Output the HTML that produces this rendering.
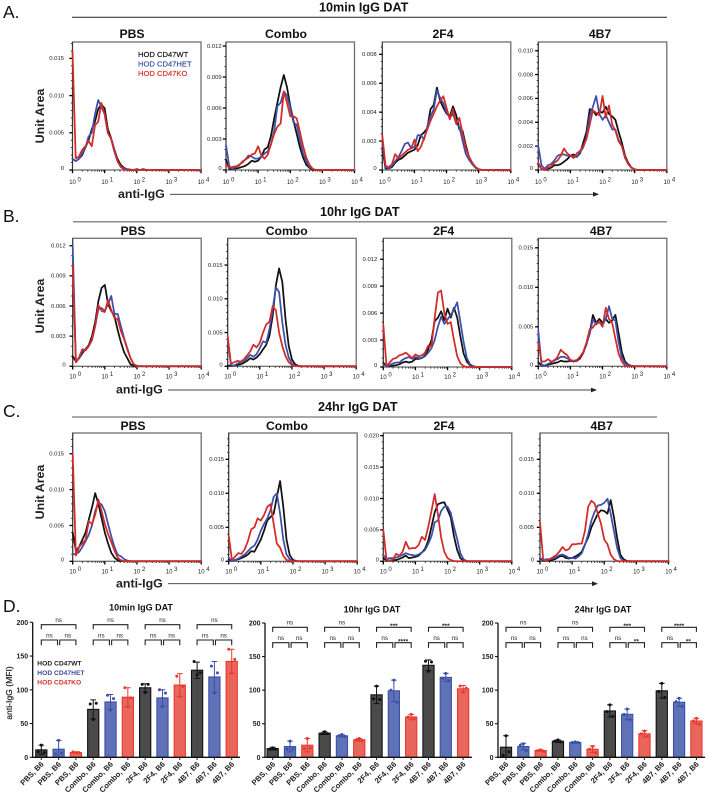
<!DOCTYPE html>
<html lang="en">
<head>
<meta charset="utf-8">
<title>IgG DAT flow cytometry histograms and MFI bar charts</title>
<style>
html,body{margin:0;padding:0;background:#fff;width:708px;height:794px;overflow:hidden}
svg{display:block;font-family:"Liberation Sans",sans-serif;filter:blur(0.35px)}
.letter{font-size:17.5px;fill:#111}
.section{font-size:12.6px;font-weight:bold;fill:#111}
.ptitle{font-size:12.2px;font-weight:bold;fill:#111;text-anchor:middle}
.axt{font-size:12.4px;font-weight:bold;fill:#222}
.leg{font-size:7.6px;stroke-width:.18}
.dleg{font-size:6.7px;font-weight:bold}
.dtitle{font-size:9px;font-weight:bold;fill:#111;text-anchor:middle}
</style>
</head>
<body>
<svg id="figure" xmlns="http://www.w3.org/2000/svg" width="708" height="794" viewBox="0 0 708 794">
<rect width="708" height="794" fill="#fff"/>

<text class="letter" x="3" y="18">A.</text>
<text class="section" x="319" y="11.5">10min IgG DAT</text>
<line x1="72" y1="17.3" x2="667" y2="17.3" stroke="#222" stroke-width="1"/>
<text class="ptitle" x="132" y="38">PBS</text>
<text class="ptitle" x="286" y="38">Combo</text>
<text class="ptitle" x="443" y="38">2F4</text>
<text class="ptitle" x="600" y="38">4B7</text>
<text class="axt" transform="translate(44,116) rotate(-90)" text-anchor="middle">Unit Area</text>
<text class="axt" x="118" y="198">anti-IgG</text>
<line x1="170" y1="194.3" x2="595" y2="194.3" stroke="#333" stroke-width=".9"/>
<polygon points="599,194.3 593,191.9 593,196.7" fill="#222"/>
<g>
<text class="leg" x="138" y="57" fill="#111" stroke="#111">HOD CD47WT</text>
<text class="leg" x="138" y="66.4" fill="#3a4fa3" stroke="#3a4fa3">HOD CD47HET</text>
<text class="leg" x="138" y="75.8" fill="#d5322b" stroke="#d5322b">HOD CD47KO</text>
</g>

<text class="letter" x="3" y="222">B.</text>
<text class="section" x="320" y="216">10hr IgG DAT</text>
<line x1="73" y1="221.8" x2="667" y2="221.8" stroke="#666" stroke-width="1.2"/>
<text class="ptitle" x="133" y="235">PBS</text>
<text class="ptitle" x="286.7" y="235">Combo</text>
<text class="ptitle" x="443.7" y="235">2F4</text>
<text class="ptitle" x="601" y="235">4B7</text>
<text class="axt" transform="translate(44,306) rotate(-90)" text-anchor="middle">Unit Area</text>
<text class="axt" x="116" y="393.5">anti-IgG</text>
<line x1="168" y1="390" x2="593" y2="390" stroke="#444" stroke-width="1"/>
<polygon points="597,390 591,387.6 591,392.4" fill="#222"/>

<text class="letter" x="3" y="417">C.</text>
<text class="section" x="318" y="411">24hr IgG DAT</text>
<line x1="72" y1="417" x2="657" y2="417" stroke="#555" stroke-width="1"/>
<text class="ptitle" x="133" y="430">PBS</text>
<text class="ptitle" x="287" y="430">Combo</text>
<text class="ptitle" x="444" y="430">2F4</text>
<text class="ptitle" x="601.7" y="430">4B7</text>
<text class="axt" transform="translate(44,492) rotate(-90)" text-anchor="middle">Unit Area</text>
<text class="axt" x="116" y="587.5">anti-IgG</text>
<line x1="168" y1="583.7" x2="594" y2="583.7" stroke="#333" stroke-width=".9"/>
<polygon points="598,583.7 592,581.3 592,586.1" fill="#222"/>

<text class="letter" x="3" y="612">D.</text>
<text class="dtitle" x="141" y="610.7">10min IgG DAT</text>
<text class="dtitle" x="372" y="612.7">10hr IgG DAT</text>
<text class="dtitle" x="603" y="612.7">24hr IgG DAT</text>
<text transform="translate(12,693) rotate(-90)" text-anchor="middle" font-size="8.6" fill="#111" stroke="#111" stroke-width=".15">anti-IgG (MFI)</text>
<g>
<text class="dleg" x="37.3" y="665.6" fill="#222">HOD CD47WT</text>
<text class="dleg" x="37.3" y="675" fill="#3a4fa3">HOD CD47HET</text>
<text class="dleg" x="37.3" y="684.3" fill="#d5322b">HOD CD47KO</text>
</g>
<g id="plots"></g>
</svg>

<script>
// ---------- Histogram data (Unit Area x 10^-3, sampled every 0.1 log10 decade from 10^0; tail is 0) ----------
const aPbsWt=[1.5,1.2,1.5,2,3,4,5.5,6.5,8.2,8.8,8.3,5.5,4.3,2.8,1.5,.7,.3,.1,.05,0,.1,0,.1];
const aPbsHet=[1.5,1.2,1.5,2.2,3,4.5,5,7.5,9.4,8.5,7.5,5,4.2,2.5,1.2,.5,.2,.05];
const aPbsKo=[16,1.6,1.8,2.7,3.2,3.9,3.2,6,6.5,9,7.5,5,4.2,2.8,1.2,.4,.1];
const aComboWt=[1,.1,.1,.15,.2,.3,.4,.6,.9,.8,.9,1.3,2,2.2,3.3,5,6.5,8,9.2,8,6.2,4.8,3.5,2.2,1.2,.5,.2];
const aComboHet=[2.4,.4,.1,.3,.5,.7,1,1.4,1.3,1.1,1.1,1.3,1.6,1.8,2.5,3.8,6.2,6.5,7.6,7.2,6,4.6,4.4,2.9,1.6,.8,.3,.1];
const aComboKo=[.6,.2,.3,.35,.4,.8,1,1.2,1.5,1.6,2.3,1.4,1.1,1.5,2.5,3.5,4.2,4.5,7.6,6.5,5.2,5.2,5,3.7,2.3,1.2,.5,.1];
const a2f4Wt=[1.5,.1,.1,.2,.5,.7,.8,1,1.2,1.3,1.4,1.7,2.4,2.6,2.9,4.2,4.5,5.7,4.8,4.3,3.9,3.7,4.4,3.8,2.8,2.7,1.7,.9,.5,.2,.05];
const a2f4Het=[2,.2,.1,.3,.6,.9,1.3,1.8,1.9,1.5,1.6,2.4,2.4,2.1,3,3.7,4.2,5.5,5,4.6,4,3.6,3.9,3.2,3,2,1.1,.7,.4,.15,.05];
const a2f4Ko=[2.4,.3,.2,.4,1.1,.8,1,1.2,1.4,1.5,2.1,1.3,1.6,2.2,2.8,3.4,3.9,4.4,4.8,5.1,4.3,3.5,4.2,3.2,3.6,2.5,1.5,.9,.5,.2,.05];
const a4b7Wt=[.5,.1,0,.1,.2,.4,.4,.5,.7,.9,1.2,1.3,1.1,1.4,2.3,3.2,5.1,5,4.6,4.9,4.8,5.3,4.7,4.5,4.2,3.2,2.3,1.2,.6,.2,.05];
const a4b7Het=[2,.4,.1,.4,.5,.8,1.2,1.3,1.3,1.2,1.2,1.1,1.1,1.5,1.9,2.8,4.5,5.3,6.2,4.7,4.2,4.6,4,3.4,3.4,2.5,2,1,.5,.2,.05];
const a4b7Ko=[.6,.1,0,.2,.3,.6,.8,1.2,1.8,1.4,1.2,1,1.4,1.6,2,2.6,3.8,5,4.8,4.6,6.2,4.4,5.4,3.8,3.3,2.4,2,1.1,.5,.2,.05];

const bPbsWt=[1,.5,.8,1.3,1.7,2.1,3,4.4,6.5,7.8,8.1,6.2,5.5,5,3.6,2.4,1.4,.8,.2,.05];
const bPbsHet=[12,.4,.8,1.5,1.6,2,2.6,4,5.7,5.8,5.5,6.2,7,5.2,5.2,4,2.8,1.8,.8,.2,.05];
const bPbsKo=[10,.4,.9,1.7,1.6,2,2.7,4,6.1,5.5,5.4,6.6,5.6,4.8,4.7,3.5,2.7,1.7,.8,.2];
const bComboWt=[.1,.1,.1,.2,.3,.5,.8,1.2,1,1.3,1.8,2.5,3.2,4.5,7.5,12,14.5,12.5,7,3,1,.3,.05];
const bComboHet=[4,.2,.1,.4,.6,.8,1.2,1.7,1.4,1.8,2.7,3.7,3.5,5.5,8.5,11.7,11,6.5,3.2,1.3,.4,.1];
const bComboKo=[4.5,.4,.6,.8,.7,1,1.6,2.2,3.2,2.8,3.5,5,6.2,6.6,8.9,8.3,5,3,1.5,.6,.2,.05];
const b2f4Wt=[.5,.05,.1,.15,.2,.3,.5,.6,.5,.6,.9,.9,1,1.3,2,3,5.1,5.5,6.2,5.2,6.5,5.5,6.6,5.5,3.4,1.5,.6,.2,.05];
const b2f4Het=[.3,.05,.2,.4,.5,.5,.8,1,1.1,.9,1.1,1,1,1.2,1.6,2.1,3,4.5,5.6,4.8,5.3,5.8,6.4,7.2,5,2.8,1,.3,.1];
const b2f4Ko=[4.7,.1,.5,.9,1,1.3,1.4,1.6,1.3,1,1.4,1.2,1.3,1.6,2.4,2.3,5.5,8.3,8.5,6,4.8,5,3,1.2,.4,.1];
const b4b7Wt=[.5,.1,.1,.2,.3,.4,.5,.7,.6,.6,.7,.6,.7,1,1.7,2.8,4.2,6.5,5.5,6,5.5,6,5.5,5.8,6.5,4.2,1.8,.6,.2,.05];
const b4b7Het=[4.5,.2,.1,.3,.5,.8,.9,1.2,1.2,1,.8,.6,.8,1.2,1.8,2.9,4.1,5.9,5.3,5.6,5.2,6,7.6,6,5.8,3,1.1,.4,.1];
const b4b7Ko=[3,.6,.6,.9,.6,.7,1.2,2.1,1.7,1.4,.8,.7,.8,1.2,1.8,3,4.7,4.9,5.5,5.6,5,7.4,6,5.5,3.5,1.6,.6,.1];

const cPbsWt=[4,1.5,2,3,4,5.8,7.5,9.5,8,6,4,2.5,1.2,.5,.15,.05];
const cPbsHet=[1,1,1.3,2,2.8,3.7,5,7,8.2,7.9,7,5.2,3.5,2,.9,.7,.3,.1];
const cPbsKo=[15,.8,2,2.5,3,5.6,5.2,6.5,8.6,7,5.2,3.8,2.7,1.5,.5,.15];
const cComboWt=[.3,.05,.2,.3,.5,.7,1,1.5,1.4,2.3,3.2,4.5,6,6.5,7,9.5,11.8,8,3.2,.9,.2,.05];
const cComboHet=[.5,.05,.2,.4,.7,1,1.5,2,2.3,3.2,4.5,5.5,6.3,7.5,9.5,10,7,3.2,1,.3,.05];
const cComboKo=[3.8,.2,.7,1.2,1.1,1.8,3,4.7,5,6.3,6,6.8,8,8.4,5.5,2.6,2,.8,.2,.05];
const c2f4Wt=[.5,.1,.1,.2,.2,.4,.6,.9,.5,.6,.7,.9,1.4,2,3.3,5.5,7.8,9.1,9.3,9.4,8.2,7,4,1.8,.5,.1];
const c2f4Het=[1,.4,.5,.5,.6,.8,1,1.3,1.1,1,.9,1.1,1.4,1.8,2.8,4,6.2,6.5,8,8.7,8.7,7.7,5.5,3.5,1.3,.3,.05];
const c2f4Ko=[5,.2,.1,.3,1.2,.9,1.5,3.1,2,2.1,2.1,2.6,3.9,3.4,5.5,8,10.7,7.5,3.8,1.5,.5,.2,.05];
const c4b7Wt=[.4,.1,.1,.1,.2,.4,.7,.8,.5,.4,.5,.7,1,1.4,2.5,3.5,5,6,7,7.5,7.4,7,9,6.5,3.5,1,.3,.05];
const c4b7Het=[.5,.2,.3,.3,.4,.6,.9,1,.8,.5,.5,.4,.7,1.2,2.4,4,6,7.3,8.2,8.3,8.6,9.2,7,4.5,2,.5,.1];
const c4b7Ko=[5.8,.2,.1,.3,.6,.9,1.4,2.1,1.6,1.8,2.5,2.5,2.6,2.6,4.5,8,8.9,8.5,7,5.5,3.2,2.5,1,.3,.05];

// ---------- Histogram tick labels ----------
const ticks15=['0','0.005','0.010','0.015'];
const ticks12=['0','0.003','0.006','0.009','0.012'];
const ticks8=['0','0.002','0.004','0.006','0.008'];
const ticks10=['0','0.002','0.004','0.006','0.008','0.010'];
const ticks20=['0','0.005','0.010','0.015','0.020'];
const xDecades=[0,1,2,3,4];
const lineColors=['#111111','#3c50ab','#d42a27'];

// ---------- Bar data (MFI) ----------
const barCategories=['PBS, B6','PBS, B6','PBS, B6','Combo, B6','Combo, B6','Combo, B6','2F4, B6','2F4, B6','2F4, B6','4B7, B6','4B7, B6','4B7, B6'];
const barTicks=[0,50,100,150,200];
const mean10min=[11,12,7,71,82,89,103,88,107,129,119,142];
const sd10min=[7,13,1,14,11,14,6,12,17,12,23,18];
const pts10min=[[18,8,7],[25,5,6],[7,8,7],[56,79,80],[70,92,87],[75,103,88],[96,108,108],[75,100,95],[90,120,105],[122,142,125],[95,135,125],[125,160,145]];
const sig10min=['ns','ns','ns','ns','ns','ns','ns','ns','ns','ns','ns','ns'];
const mean10hr=[13,16,18,36,32,26,93,99,60,137,119,102];
const sd10hr=[2,8,10,2,1.5,2,13,16,4,8,6,5];
const pts10hr=[[14,12,12],[24,12,12],[28,13,14],[38,35,35],[34,32,31],[28,26,25],[106,87,86],[115,100,82],[64,60,57],[128,143,142],[125,118,114],[97,106,103]];
const sig10hr=['ns','ns','ns','ns','ns','ns','***','ns','****','***','ns','ns'];
const mean24hr=[15,16,10,24,22,12,69,64,35,99,82,54];
const sd24hr=[17,5,1,2,1,5,9,8,5,11,6,4];
const pts24hr=[[32,3,8],[20,18,10],[11,10,9],[26,24,23],[23,22,22],[16,12,7],[78,68,61],[72,64,56],[39,35,31],[110,98,89],[88,83,76],[58,54,49]];
const sig24hr=['ns','ns','ns','ns','ns','ns','***','ns','**','****','ns','**'];
const barFills=['#4b4b4b','#5f72b6','#e8665c'];
const barStrokes=['#111111','#3c50ab','#e8392f'];

// ---------- Layout (pixels; separate from data) ----------
const PANEL_W=128.5, DECADE=PANEL_W/4, LOG_STEP=0.1;
const panels=[
 {id:'a-pbs',l:72.5,t:42,b:170,k:7.44,gap:8.5,xdy:14,tk:ticks15,minor:1,s:[aPbsWt,aPbsHet,aPbsKo]},
 {id:'a-combo',l:226,t:42,b:170,k:10.33,gap:4.3,xdy:14,tk:ticks12,minor:1,s:[aComboWt,aComboHet,aComboKo]},
 {id:'a-2f4',l:382.3,t:42,b:170,k:14.46,gap:5.6,xdy:14,tk:ticks8,minor:.5,s:[a2f4Wt,a2f4Het,a2f4Ko]},
 {id:'a-4b7',l:538.3,t:42,b:170,k:11.93,gap:5.3,xdy:14,tk:ticks10,minor:.5,s:[a4b7Wt,a4b7Het,a4b7Ko]},
 {id:'b-pbs',l:72.7,t:238.3,b:366.3,k:10.05,gap:7,xdy:12,tk:ticks12,minor:1,s:[bPbsWt,bPbsHet,bPbsKo]},
 {id:'b-combo',l:227.7,t:238.3,b:366.3,k:6.75,gap:5,xdy:12,tk:ticks15,minor:1,s:[bComboWt,bComboHet,bComboKo]},
 {id:'b-2f4',l:383.3,t:238.3,b:367,k:8.98,gap:6,xdy:12,tk:ticks12,minor:1,s:[b2f4Wt,b2f4Het,b2f4Ko]},
 {id:'b-4b7',l:538.3,t:238.3,b:366.3,k:7.9,gap:5,xdy:12,tk:ticks15,minor:1,s:[b4b7Wt,b4b7Het,b4b7Ko]},
 {id:'c-pbs',l:72.7,t:433,b:561.3,k:7.17,gap:8.7,xdy:12,tk:ticks15,minor:1,s:[cPbsWt,cPbsHet,cPbsKo]},
 {id:'c-combo',l:228.7,t:433,b:561.3,k:6.8,gap:4.7,xdy:12,tk:ticks15,minor:1,s:[cComboWt,cComboHet,cComboKo]},
 {id:'c-2f4',l:383.3,t:433,b:561.3,k:6.28,gap:4.3,xdy:12,tk:ticks20,minor:1,s:[c2f4Wt,c2f4Het,c2f4Ko]},
 {id:'c-4b7',l:540,t:433,b:561.3,k:6.8,gap:6,xdy:12,tk:ticks15,minor:1,s:[c4b7Wt,c4b7Het,c4b7Ko]}
];
const barCharts=[
 {id:'10min',ax:32.7,x0:41.3,end:240,top:622.3,zero:757.3,mean:mean10min,sd:sd10min,pts:pts10min,sig:sig10min,by1:624.7,by2:640},
 {id:'10hr',ax:265,x0:272.7,end:472,top:623,zero:757.3,mean:mean10hr,sd:sd10hr,pts:pts10hr,sig:sig10hr,by1:627.3,by2:642.7},
 {id:'24hr',ax:498,x0:506,end:705,top:623,zero:757.3,mean:mean24hr,sd:sd24hr,pts:pts24hr,sig:sig24hr,by1:627.3,by2:642.7}
];
const BAR_STEP=17.31, BAR_W=11.2;
const JITTER=[0,-3,3];
const NS='http://www.w3.org/2000/svg';
const root=document.getElementById('plots');

function svgEl(tag,attrs,parent){
  const n=document.createElementNS(NS,tag);
  for(const k in attrs){n.setAttribute(k,attrs[k]);}
  parent.appendChild(n);
  return n;
}

function drawHistogram(p){
  const x=v=>p.l+v*DECADE;
  const y=v=>p.b-v*p.k;
  const g=svgEl('g',{},root);
  
  
  const frame=svgEl('rect',{x:p.l,y:p.t,width:PANEL_W,height:p.b-p.t,fill:'none',stroke:'#6f6f6f','stroke-width':1.3},g);
  
  
  const yAxis=svgEl('line',{x1:p.l,x2:p.l,y1:p.t,y2:p.b+1,stroke:'#333','stroke-width':.9},g);
  
  
  // y minor ticks
  for(let v=0;y(v)>=p.t;v+=p.minor){
    const m=svgEl('line',{x1:p.l-1.6,x2:p.l,y1:y(v),y2:y(v),stroke:'#111','stroke-width':.8},g);
    
    
  }
  // y major ticks and labels
  p.tk.forEach(lab=>{
    const v=parseFloat(lab)*1000;
    const t=svgEl('line',{x1:p.l-3.2,x2:p.l,y1:y(v),y2:y(v),stroke:'#000','stroke-width':1.3},g);
    
    
    const tx=svgEl('text',{x:p.l-p.gap,y:y(v)+(v===0?0.2:1.8),'font-size':5.9,fill:'#222','text-anchor':'end'},g);
    
    
    tx.textContent=lab;
  });
  // x ticks and labels
  xDecades.forEach(d=>{
    const t=svgEl('line',{x1:x(d),x2:x(d),y1:p.b,y2:p.b+3.2,stroke:'#000','stroke-width':1.3},g);
    
    
    if(d<4){
      for(let j=2;j<10;j++){
        const m=svgEl('line',{x1:x(d+Math.log10(j)),x2:x(d+Math.log10(j)),y1:p.b,y2:p.b+1.7,stroke:'#111','stroke-width':.7},g);
        
        
      }
    }
    const tx=svgEl('text',{x:x(d)-3.3,y:p.b+p.xdy,'font-size':6,fill:'#222'},g);
    
    
    tx.textContent='10 ';
    const sup=svgEl('tspan',{dy:-2.3,'font-size':6},tx);
    sup.textContent=String(d);
  });
  // series
  ['wt','het','ko'].forEach((key,si)=>{
    const vals=p.s[si];
    const pts=vals.map((v,i)=>x(i*LOG_STEP).toFixed(2)+','+y(v).toFixed(2));
    pts.push(x(vals.length*LOG_STEP).toFixed(2)+','+y(0).toFixed(2));
    pts.push(x(4).toFixed(2)+','+y(0).toFixed(2));
    const line=svgEl('polyline',{points:pts.join(' '),fill:'none',stroke:lineColors[si],'stroke-width':1.75,'stroke-linejoin':'round','stroke-linecap':'round'},g);
    
    
  });
}

function drawBars(c){
  const y=v=>c.zero-v*(c.zero-c.top)/200;
  const x=i=>c.x0+i*BAR_STEP;
  const g=svgEl('g',{},root);
  
  
  c.mean.forEach((m,i)=>{
    const col=i%3;
    const bar=svgEl('rect',{x:x(i)-BAR_W/2,y:y(m),width:BAR_W,height:c.zero-y(m),fill:barFills[col],stroke:barStrokes[col],'stroke-width':1.1},g);
    
    
    const hi=y(m+c.sd[i]);
    const lo=y(Math.max(0,m-c.sd[i]));
    const err=svgEl('path',{d:'M'+x(i)+' '+lo+'V'+hi+'M'+(x(i)-2.8)+' '+hi+'H'+(x(i)+2.8)+'M'+(x(i)-2.8)+' '+lo+'H'+(x(i)+2.8),fill:'none',stroke:barStrokes[col],'stroke-width':1},g);
    
    
    c.pts[i].forEach((v,k)=>{
      const dot=svgEl('circle',{cx:x(i)+JITTER[k],cy:y(v),r:1.5,fill:barStrokes[col]},g);
      
      
    });
    const tick=svgEl('line',{x1:x(i),x2:x(i),y1:c.zero,y2:c.zero+2.6,stroke:'#111','stroke-width':1},g);
    
    
    const lab=svgEl('text',{transform:'translate('+(x(i)+3)+','+(c.zero+7.5)+') rotate(-45)','text-anchor':'end','font-size':7.6,'font-weight':'bold',fill:'#222'},g);
    
    
    lab.textContent=barCategories[i];
  });
  const axes=svgEl('path',{d:'M'+c.ax+' '+y(200)+'V'+c.zero+'H'+c.end,fill:'none',stroke:'#111','stroke-width':1.3},g);
  
  
  barTicks.forEach(v=>{
    const t=svgEl('line',{x1:c.ax-3,x2:c.ax,y1:y(v),y2:y(v),stroke:'#111','stroke-width':1.1},g);
    
    
    const tx=svgEl('text',{x:c.ax-4.5,y:y(v)+2.5,'font-size':7,'font-weight':'bold',fill:'#222','text-anchor':'end'},g);
    
    
    tx.textContent=String(v);
  });
  // significance brackets: one group per three bars
  for(let gi=0;gi<4;gi++){
    const a=x(gi*3), b=x(gi*3+1), d=x(gi*3+2);
    const spans=[[a,d,c.by1,4.6],[a,b-1.1,c.by2,5.2],[b+1.1,d,c.by2,5.2]];
    spans.forEach((s,k)=>{
      const br=svgEl('path',{d:'M'+s[0]+' '+(s[2]+s[3])+'V'+s[2]+'H'+s[1]+'V'+(s[2]+s[3]),fill:'none',stroke:'#222','stroke-width':1.1},g);
      
      
      const label=c.sig[gi*3+k];
      const isNs=label==='ns';
      const tx=svgEl('text',{x:(s[0]+s[1])/2,y:s[2]+(isNs?-2.6:0.8),'font-size':isNs?6.2:6.6,'font-weight':isNs?'normal':'bold',fill:'#222','text-anchor':'middle'},g);
      
      
      tx.textContent=label;
    });
  }
}

panels.forEach(drawHistogram);
barCharts.forEach(drawBars);
</script>
</body>
</html>
